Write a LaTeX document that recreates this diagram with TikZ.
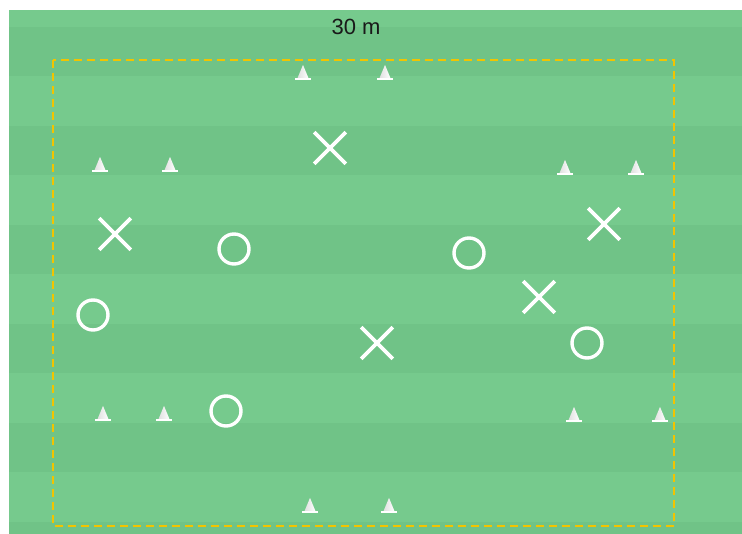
\documentclass[tikz,border=0pt]{standalone}
\usepackage{fontspec}
\setmainfont{Liberation Sans}
\usepackage{tikz}
\usetikzlibrary{shapes.geometric,shapes.misc}
\definecolor{grasslight}{RGB}{118,202,141}
\definecolor{grassdark}{RGB}{112,195,135}
\definecolor{markline}{RGB}{242,196,0}
\definecolor{labeltext}{RGB}{25,25,25}
\tikzset{
  stripe/.style={fill=grassdark, draw=none},
  arealine/.style={draw=markline, line width=1.5pt, dash pattern=on 8pt off 5pt},
  attacker/.style={
    cross out,
    draw=white,
    line width=3.6pt,
    minimum size=28pt,
    inner sep=0pt
  },
  defender/.style={
    circle,
    draw=white,
    line width=3.4pt,
    minimum size=30pt,
    inner sep=0pt
  },
  cone/.style={
    isosceles triangle,
    shape border rotate=90,
    isosceles triangle apex angle=45,
    minimum height=14pt,
    minimum width=11pt,
    inner sep=0pt,
    left color=gray!25,
    right color=white,
    draw=none
  },
  conebase/.style={draw=white, line width=1.2pt, shorten <=-1.5pt, shorten >=-1.5pt}
}

\begin{document}
\begin{tikzpicture}[x=1pt,y=-1pt]
  \useasboundingbox (0,0) rectangle (742,534);
  % pitch with mown stripes
  \fill[grasslight] (9,10) rectangle (742,534);
  \foreach \k in {0,...,5}
    \fill[stripe] (9,{27+99*\k}) rectangle (742,{min(534,76.5+99*\k)});

  % marked area
  \draw[arealine] (53,60) rectangle (674,526);
  \node[font=\fontsize{22}{26}\selectfont, text=labeltext] (size) at (356,27) {30 m};

  % cones
  \foreach \n/\x/\y in {t1/303/75, t2/385/75, a1/100/167, a2/170/167,
                        b1/565/170, b2/636/170, c1/103/416, c2/164/416,
                        d1/574/417, d2/660/417, e1/310/508, e2/389/508} {
    \node[cone] (cone\n) at (\x,\y) {};
    \draw[conebase] (cone\n.left corner) -- (cone\n.right corner);
  }

  % attackers
  \node[attacker] (x1) at (330,148) {};
  \node[attacker] (x2) at (115,234) {};
  \node[attacker] (x3) at (604,224) {};
  \node[attacker] (x4) at (539,297) {};
  \node[attacker] (x5) at (377,343) {};

  % defenders
  \node[defender] (o1) at (234,249) {};
  \node[defender] (o2) at (469,253) {};
  \node[defender] (o3) at (93,315) {};
  \node[defender] (o4) at (587,343) {};
  \node[defender] (o5) at (226,411) {};
\end{tikzpicture}
\end{document}
